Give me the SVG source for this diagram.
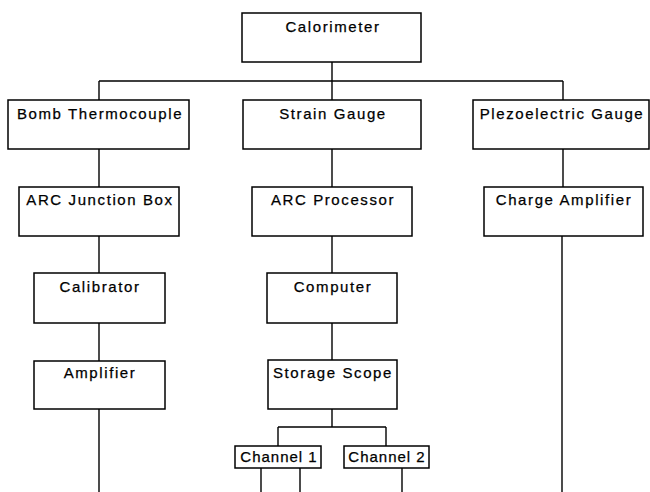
<svg xmlns="http://www.w3.org/2000/svg" width="650" height="492" viewBox="0 0 650 492">
<style>
rect{fill:#fff;stroke:#000;stroke-width:1.5}
text{font-family:"Liberation Sans",Arial,sans-serif;font-size:15px;fill:#000;text-anchor:middle;letter-spacing:1.6px;stroke:#000;stroke-width:0.25}
text.ch{letter-spacing:1px}
#connectors path{fill:none;stroke:#000;stroke-width:1.4}
</style>
<rect x="0" y="0" width="650" height="492" style="stroke:none"/>
<g id="connectors">
<path d="M332 62V81M99 81H563M99 81V100M332 81V100M563 81V100"/>
<path d="M99 149V187M99 236V273M99 323V361M99 409V492"/>
<path d="M332 149V187M332 236V273M332 323V360M332 409V427M278 427H386M278 427V446M386 427V446"/>
<path d="M261 468V492M300 468V492M402 468V492"/>
<path d="M563 149V187M562 236V492"/>
</g>
<g id="calorimeter"><rect x="242" y="13" width="179" height="49"/><text x="333" y="32">Calorimeter</text></g>
<g id="bomb"><rect x="8" y="100" width="181" height="49"/><text x="100" y="119">Bomb Thermocouple</text></g>
<g id="strain"><rect x="243" y="100" width="178" height="49"/><text x="333" y="119">Strain Gauge</text></g>
<g id="piezo"><rect x="473" y="100" width="176" height="49"/><text x="562" y="119">Plezoelectric Gauge</text></g>
<g id="arcjunction"><rect x="19" y="187" width="160" height="49"/><text x="100" y="205">ARC Junction Box</text></g>
<g id="arcprocessor"><rect x="252" y="187" width="160" height="49"/><text x="333" y="205">ARC Processor</text></g>
<g id="chargeamp"><rect x="484" y="187" width="159" height="49"/><text x="564" y="205">Charge Amplifier</text></g>
<g id="calibrator"><rect x="34" y="273" width="131" height="50"/><text x="100" y="292">Calibrator</text></g>
<g id="computer"><rect x="267" y="273" width="130" height="50"/><text x="333" y="292">Computer</text></g>
<g id="amplifier"><rect x="34" y="361" width="131" height="48"/><text x="100" y="378">Amplifier</text></g>
<g id="storagescope"><rect x="268" y="360" width="129" height="49"/><text x="333" y="378">Storage Scope</text></g>
<g id="channel1"><rect x="235" y="446" width="86" height="22"/><text class="ch" x="279" y="462">Channel 1</text></g>
<g id="channel2"><rect x="344" y="446" width="85" height="22"/><text class="ch" x="387" y="462">Channel 2</text></g>
</svg>
